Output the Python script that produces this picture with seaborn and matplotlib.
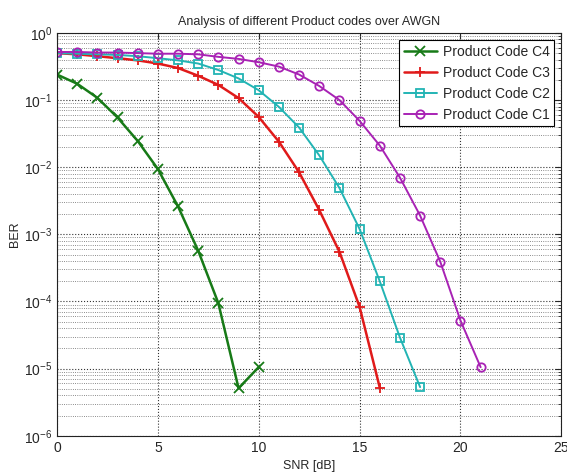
import numpy as np
import pandas as pd
import matplotlib
matplotlib.use("Agg")
import matplotlib.pyplot as plt
import seaborn as sns
from matplotlib.ticker import LogLocator, NullFormatter

# BER readings per code (SNR in dB)
snr_c4 = [0, 1, 2, 3, 4, 5, 6, 7, 8, 9, 10]
ber_c4 = [0.24, 0.175, 0.108, 0.055, 0.0246, 0.0094, 0.0026, 0.00057, 9.4e-5, 5.1e-6, 1.05e-5]

snr_c3 = [0, 1, 2, 3, 4, 5, 6, 7, 8, 9, 10, 11, 12, 13, 14, 15, 16]
ber_c3 = [0.5, 0.48, 0.45, 0.42, 0.39, 0.35, 0.30, 0.23, 0.168, 0.107, 0.056, 0.024,
          0.0084, 0.0023, 0.00055, 8.3e-5, 5.2e-6]

snr_c2 = [0, 1, 2, 3, 4, 5, 6, 7, 8, 9, 10, 11, 12, 13, 14, 15, 16, 17, 18]
ber_c2 = [0.5, 0.49, 0.48, 0.47, 0.45, 0.42, 0.39, 0.35, 0.28, 0.21, 0.14, 0.079,
          0.039, 0.015, 0.0049, 0.0012, 0.0002, 2.9e-5, 5.3e-6]

snr_c1 = [0, 1, 2, 3, 4, 5, 6, 7, 8, 9, 10, 11, 12, 13, 14, 15, 16, 17, 18, 19, 20, 21]
ber_c1 = [0.52, 0.52, 0.51, 0.51, 0.5, 0.49, 0.49, 0.48, 0.44, 0.41, 0.366, 0.315,
          0.24, 0.162, 0.10, 0.049, 0.021, 0.007, 0.0019, 0.00039, 5.2e-5, 1.05e-5]

names = ["Product Code C4", "Product Code C3", "Product Code C2", "Product Code C1"]

sns.set_style("white")
plt.rcParams["font.family"] = ["Liberation Sans", "DejaVu Sans"]

fig = plt.figure(figsize=(5.67, 4.75), dpi=100)
ax = fig.add_axes([0.1005, 0.0827, 0.8895, 0.848])

series = [
    (snr_c4, ber_c4, "#177a17", "x", 1.8, 7),
    (snr_c3, ber_c3, "#e01a1a", "+", 1.8, 7),
    (snr_c2, ber_c2, "#22b4b4", "s", 1.4, 6),
    (snr_c1, ber_c1, "#a822b4", "o", 1.4, 6),
]
for (x, y, col, mk, lw, ms), name in zip(series, names):
    df = pd.DataFrame({"SNR": x, "BER": y})
    sns.lineplot(data=df, x="SNR", y="BER", ax=ax, color=col, marker=mk,
                 markersize=ms, linewidth=lw, markerfacecolor="none",
                 markeredgecolor=col, markeredgewidth=1.3, label=name)

ax.set_yscale("log")
ax.set_xlim(0, 25)
ax.set_ylim(1e-6, 1)
ax.set_xticks([0, 5, 10, 15, 20, 25])
ax.yaxis.set_major_locator(LogLocator(base=10, numticks=10))
ax.yaxis.set_minor_locator(LogLocator(base=10, subs=np.arange(2, 10), numticks=20))
ax.yaxis.set_minor_formatter(NullFormatter())

ax.grid(True, which="major", linestyle=":", color="#333333", linewidth=0.8)
ax.grid(True, which="minor", axis="y", linestyle=":", color="#666666", linewidth=0.6)
ax.tick_params(which="both", direction="in", top=True, right=True, labelsize=10)
ax.tick_params(which="major", length=4)
ax.tick_params(which="minor", length=2)
for s in ax.spines.values():
    s.set_color("#222222")
    s.set_linewidth(0.8)

ax.set_xlabel("SNR [dB]", fontsize=9, labelpad=4)
ax.set_ylabel("BER", fontsize=9, labelpad=2)
ax.set_title("Analysis of different Product codes over AWGN", fontsize=9, pad=6)

leg = ax.legend(loc="upper right", fontsize=10, frameon=True, fancybox=False,
                edgecolor="black", framealpha=1, borderpad=0.35, handlelength=2.4,
                handletextpad=0.4, labelspacing=0.5, borderaxespad=0.5)
leg.get_frame().set_linewidth(0.8)

fig.savefig("out.png", dpi=100)
